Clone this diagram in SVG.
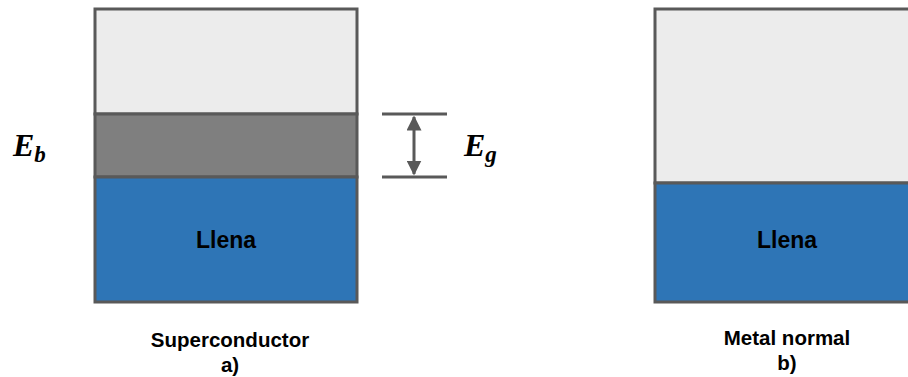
<svg xmlns="http://www.w3.org/2000/svg" width="908" height="377" viewBox="0 0 908 377">
<style>
.box{stroke:#595959;stroke-width:3}
.lt{fill:#ECECEC}
.gr{fill:#7F7F7F}
.bl{fill:#2E75B6}
.lbl{font-family:"Liberation Sans",Arial,sans-serif;font-weight:bold;fill:#000;text-anchor:middle}
.math{font-family:"Liberation Serif","Times New Roman",serif;font-weight:bold;font-style:italic;fill:#000}
.ln{stroke:#595959;stroke-width:3;fill:none}
</style>
<defs>
<marker id="ah" viewBox="0 0 10 10" refX="9" refY="5" markerWidth="5" markerHeight="5" orient="auto-start-reverse">
<path d="M0,0 L10,5 L0,10 z" fill="#595959"/>
</marker>
</defs>
<rect width="908" height="377" fill="#fff"/>
<g id="superconductor">
<rect class="box lt" x="95" y="9" width="262" height="105"/>
<rect class="box gr" x="95" y="114" width="262" height="63"/>
<rect class="box bl" x="95" y="177" width="262" height="125"/>
<text class="lbl" x="226" y="248" font-size="23">Llena</text>
<text class="lbl" x="230" y="347" font-size="20.5">Superconductor</text>
<text class="lbl" x="230" y="372" font-size="20.5">a)</text>
</g>
<g id="metal">
<rect class="box lt" x="655" y="9" width="265" height="174"/>
<rect class="box bl" x="655" y="183" width="265" height="119"/>
<text class="lbl" x="787" y="248" font-size="23">Llena</text>
<text class="lbl" x="787" y="345" font-size="20.5">Metal normal</text>
<text class="lbl" x="787" y="370" font-size="20.5">b)</text>
</g>
<g id="eb">
<text class="math" x="13" y="156" font-size="32">E<tspan font-size="23" dy="6">b</tspan></text>
</g>
<g id="connectors">
<line class="ln" x1="382" y1="114" x2="447" y2="114"/>
<line class="ln" x1="382" y1="177" x2="447" y2="177"/>
<line class="ln" x1="414" y1="117" x2="414" y2="174" stroke-width="2.5" marker-start="url(#ah)" marker-end="url(#ah)"/>
</g>
<g id="eg">
<text class="math" x="464" y="156" font-size="32">E<tspan font-size="23" dy="6">g</tspan></text>
</g>
</svg>
